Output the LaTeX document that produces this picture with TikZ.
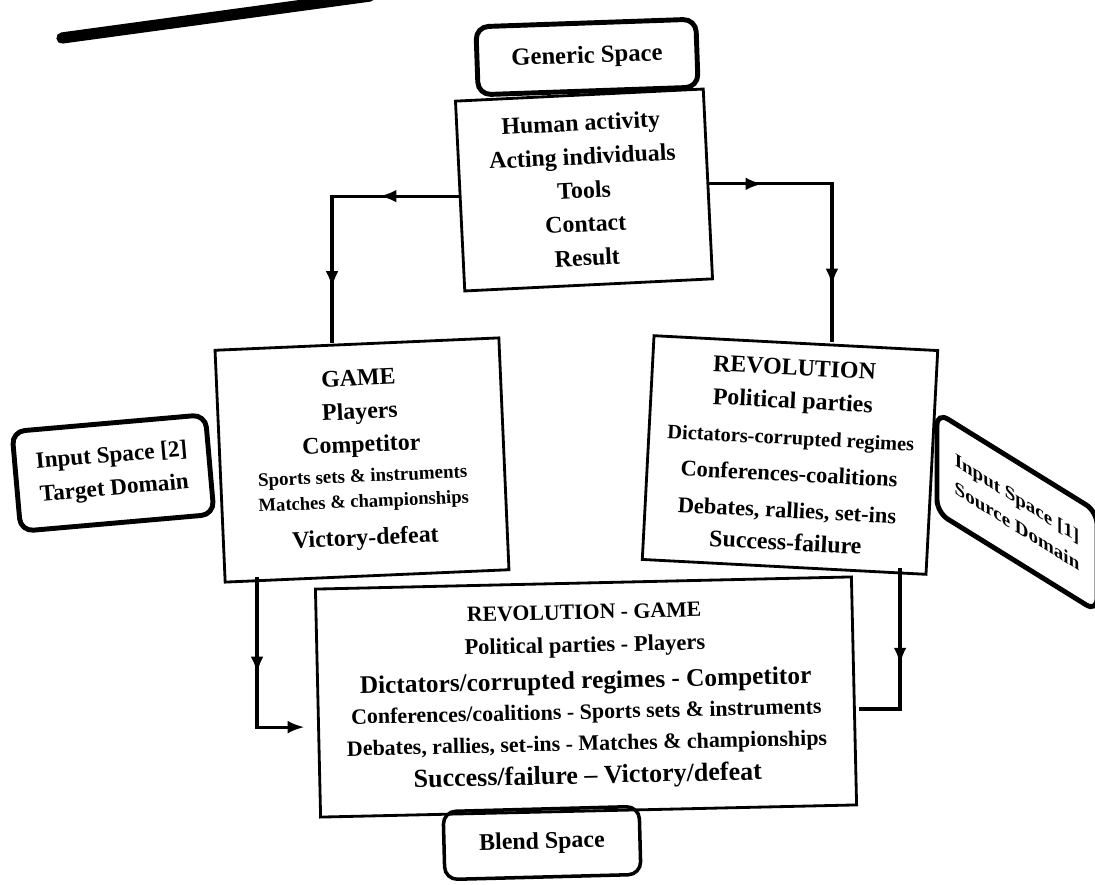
\documentclass[tikz,border=0pt]{standalone}
\usepackage{fontspec}
\setmainfont{Liberation Serif}
\usetikzlibrary{arrows.meta,decorations.markings}

\begin{document}
\begin{tikzpicture}[x=0.025cm, y=-0.025cm,
  spacebox/.style={draw, line width=3.5pt, rounded corners=9pt, align=center, font=\bfseries\fontsize{16.5}{23.5}\selectfont},
  framebox/.style={draw, line width=2pt, align=center, inner sep=2pt},
  link/.style={line width=2.3pt},
  tip/.style={postaction={decorate, decoration={markings, mark=at position #1 with {\arrow{Latex[length=12pt, width=9pt]}}}}}]
\useasboundingbox (0,0) rectangle (1095,885);

% page edge
\draw[line width=8pt, line cap=round] (62,38) -- (370,-4);

\draw
(587,57) node[spacebox, rotate=2, minimum width=5.5cm, minimum height=1.7cm, font=\bfseries\fontsize{17.5}{20}\selectfont](genlabel){Generic Space}
(584,190) node[framebox, rotate=2.8, minimum width=6.2cm, minimum height=4.75cm, font=\bfseries\fontsize{17}{24}\selectfont](generic){Human activity\\Acting individuals\\Tools\\Contact\\Result}
(362,460) node[framebox, rotate=2.5, minimum width=7.1cm, minimum height=5.8cm, font=\bfseries\fontsize{17}{24}\selectfont](game){GAME\\Players\\[-0.5pt]Competitor\\[-2.7pt]{\fontsize{13.5}{16}\selectfont Sports sets \& instruments}\\[-6pt]{\fontsize{13.2}{16}\selectfont Matches \& championships}\\[3pt]Victory-defeat}
(790,455) node[framebox, rotate=-3, minimum width=7.1cm, minimum height=5.6cm, font=\bfseries\fontsize{17}{22}\selectfont](rev){REVOLUTION\\[1.5pt]Political parties\\[4pt]{\fontsize{14.5}{16}\selectfont Dictators-corrupted regimes}\\[4pt]{\fontsize{16}{16}\selectfont Conferences-coalitions}\\[4pt]{\fontsize{16}{16}\selectfont Debates, rallies, set-ins}\\[1pt]Success-failure}
(113,473) node[spacebox, rotate=5, minimum width=4.85cm, minimum height=2.5cm](in2){Input Space [2]\\Target Domain}
(1017,512) node[spacebox, yslant=-0.62, minimum width=4cm, minimum height=2.5cm, font=\bfseries\fontsize{13.5}{20}\selectfont](in1){Input Space [1]\\Source Domain}
(586,697) node[framebox, rotate=1.3, minimum width=13.4cm, minimum height=5.7cm, font=\bfseries\fontsize{16}{23.5}\selectfont](blend){{\fontsize{15.5}{16}\selectfont REVOLUTION - GAME}\\Political parties - Players\\[2.5pt]{\fontsize{18}{18}\selectfont Dictators/corrupted regimes - Competitor}\\[-2pt]{\fontsize{15.6}{16}\selectfont Conferences/coalitions - Sports sets \& instruments}\\[-1pt]{\fontsize{15.6}{16}\selectfont Debates, rallies, set-ins - Matches \& championships}\\{\fontsize{18.5}{18}\selectfont Success/failure -- Victory/defeat}}
(542,843) node[spacebox, rotate=1.5, line width=2.5pt, minimum width=4.9cm, minimum height=1.7cm, font=\bfseries\fontsize{17}{20}\selectfont](blendlabel){Blend Space};

\draw[link, tip=0.29, tip=0.8] (generic.west) -| ([xshift=-0.62cm]game.north);
\draw[link, tip=0.19, tip=0.8] (generic.east) -| ([xshift=0.9cm]rev.north);
\draw[link, tip=0.46, -{Latex[length=12pt, width=9pt]}, shorten >=0.3cm] ([xshift=-2.75cm]game.south) |- ([yshift=-0.6cm]blend.west);
\draw[link, tip=0.52, shorten >=0.1cm] ([xshift=2.9cm]rev.south) |- ([yshift=-0.45cm]blend.east);
\end{tikzpicture}
\end{document}
